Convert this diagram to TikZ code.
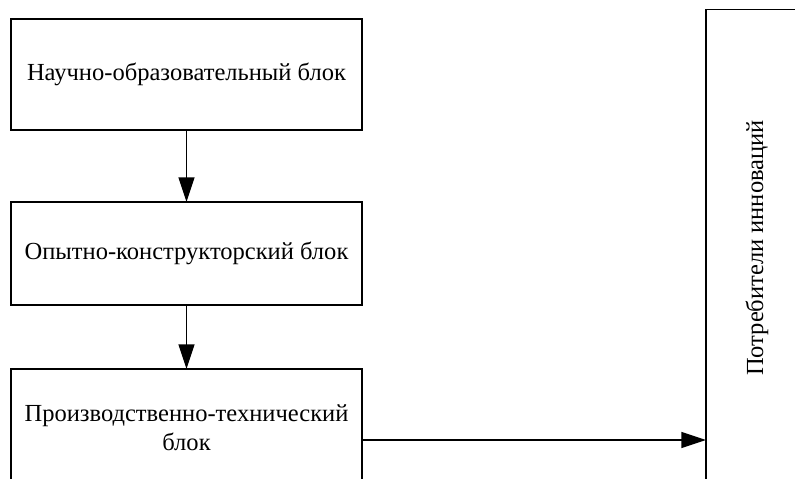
\documentclass[tikz,border=0pt]{standalone}
\usepackage{fontspec}
\setmainfont{Liberation Serif}
\usetikzlibrary{arrows.meta}
\begin{document}
\begin{tikzpicture}[x=0.75pt,y=-0.75pt,
  blk/.style={draw,line width=1pt,inner sep=0pt,outer sep=0pt,minimum width=263.25pt,align=center,font=\fontsize{18.4}{21.5}\selectfont},
  arr/.style={line width=1pt,-{Triangle[length=18.5pt,width=12pt]}}]
\path[use as bounding box] (0,0) rectangle (795,478);
\clip (0,0) rectangle (795,478);
\node[blk,minimum height=83.25pt] (b1) at (186.5,74.5) {Научно-образовательный блок};
\node[blk,minimum height=77.25pt] (b2) at (186.5,253.5) {Опытно-конструкторский блок};
\node[blk,minimum height=88.5pt] (b3) at (186.5,428) {Производственно-технический\\блок};
\node[blk,rotate=90,minimum width=357.75pt,minimum height=76.5pt] (c) at (757,248) {Потребители инноваций};
\coordinate (h) at (500,440);
\draw[arr] (b1) -- (b2);
\draw[arr] (b2) -- (b3);
\draw[arr] (b3.east |- h) -- (c.north |- h);
\end{tikzpicture}
\end{document}
